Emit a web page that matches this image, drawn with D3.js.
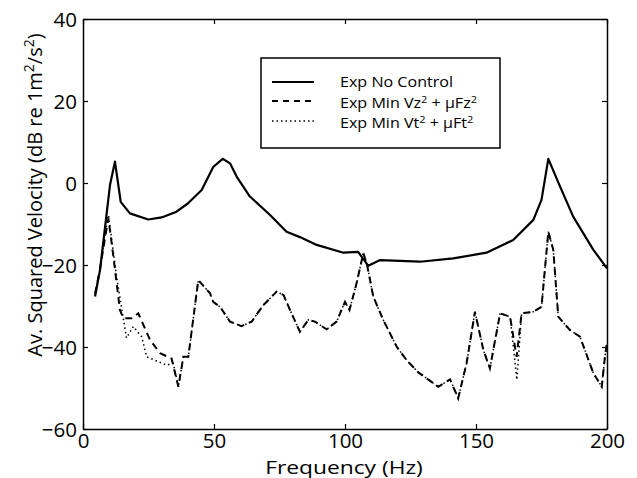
<!DOCTYPE html>
<html><head><meta charset="utf-8">
<script src="https://cdn.jsdelivr.net/npm/d3@7"></script>
<style>body{margin:0;background:#fff}svg{display:block}text{font-family:"Open Sans",sans-serif;fill:#000}</style>
</head><body><svg id="c" width="637" height="478"></svg>
<script>
const xTicks=[0,50,100,150,200];
const yTicks=[-60,-40,-20,0,20,40];
const seriesNames=["Exp No Control","Exp Min Vz","Exp Min Vt"];
const noControl=[[4.6,-27.7],[6.5,-21.2],[10.3,-0.5],[12.2,5.2],[14.4,-4.6],[17.9,-7.4],[24.9,-8.9],[30,-8.4],[35.7,-7.0],[40,-5],[45.3,-1.7],[49.7,3.9],[53.3,5.9],[56.1,4.8],[58.7,1.5],[63.7,-3.3],[71.4,-7.8],[77.7,-11.9],[82.8,-13.2],[89.2,-15.1],[99.4,-17],[105,-16.8],[108.9,-20.2],[113.4,-18.8],[128.6,-19.2],[141.3,-18.4],[154,-17],[164.2,-13.9],[171.9,-9],[175,-4.1],[177.6,5.9],[182.1,-0.9],[187.1,-8.2],[194.8,-16.3],[200,-20.8]];
const minVz=[[4.6,-27],[6.5,-21],[8.5,-13],[9.7,-8.6],[11,-15],[11.6,-18],[14.1,-31],[15.4,-33],[18.6,-33],[21.1,-31.8],[25.6,-38.3],[29.4,-41.5],[33.8,-42.8],[36.4,-49.7],[38.3,-42.4],[40.2,-42.4],[44,-23.7],[48.5,-26.9],[49.7,-29],[52.3,-30.2],[56.1,-33.8],[60.5,-34.9],[64.4,-33.8],[68.8,-29.8],[73.9,-26.5],[76.5,-27.3],[79.6,-31.8],[82.8,-36.3],[86,-33.4],[88.5,-33.8],[93,-35.7],[96.8,-33.8],[100,-29],[101.7,-31],[104.4,-24.5],[107,-17.1],[108.3,-19.6],[110.8,-27.7],[114.6,-33.4],[119.7,-39.9],[123.5,-43.2],[128,-46.2],[135.6,-49.7],[140.1,-47.9],[143.2,-52.5],[146.4,-44],[149.6,-31.4],[152.8,-40.7],[155.3,-45.2],[159.2,-31.8],[163,-32.6],[165.5,-42.4],[167.4,-31.8],[171.9,-31.4],[175,-30.2],[177.6,-11.9],[179.5,-16.3],[181.4,-32.6],[185.9,-35.9],[189.7,-37.5],[194.8,-46.4],[198,-49.7],[199.2,-42.4],[200,-39]];
const minVt=[[4.6,-27],[6.5,-21],[8.5,-12],[9.7,-7.8],[11,-14],[12.8,-22.8],[16.6,-37.8],[19.2,-35],[22.4,-37.5],[24.3,-42.4],[31.9,-44.4],[34.5,-44],[36.4,-49.7],[38.3,-42.4],[40.2,-42.4],[44,-23.7],[48.5,-26.9],[49.7,-29],[52.3,-30.2],[56.1,-33.8],[60.5,-34.9],[64.4,-33.8],[68.8,-29.8],[73.9,-26.5],[76.5,-27.3],[79.6,-31.8],[82.8,-36.3],[86,-33.4],[88.5,-33.8],[93,-35.7],[96.8,-33.8],[100,-29],[101.7,-31],[104.4,-24.5],[107,-17.1],[108.3,-19.6],[110.8,-27.7],[114.6,-33.4],[119.7,-39.9],[123.5,-43.2],[128,-46.2],[135.6,-49.7],[140.1,-47.9],[143.2,-52.5],[146.4,-44],[149.6,-31.4],[152.8,-40.7],[155.3,-45.2],[159.2,-31.8],[163,-32.6],[165.6,-48],[167.4,-31.8],[171.9,-31.4],[175,-30.2],[177.6,-11.9],[179.5,-16.3],[181.4,-32.6],[185.9,-35.9],[189.7,-37.5],[194.8,-46.4],[198,-49.7],[199.2,-42.4],[200,-39]];

const svg=d3.select("#c");
const L=83,R=607,T=19,B=429;
const x=d3.scaleLinear().domain([0,200]).range([L,R]);
const y=d3.scaleLinear().domain([-60,40]).range([B,T]);

const ax=svg.append("g").attr("transform",`translate(0,${B})`).call(d3.axisBottom(x).tickValues(xTicks).tickSizeInner(-5).tickSizeOuter(0).tickPadding(4));
const axT=svg.append("g").attr("transform",`translate(0,${T})`).call(d3.axisTop(x).tickValues(xTicks).tickSizeInner(-5).tickSizeOuter(0).tickFormat(""));
const ay=svg.append("g").attr("transform",`translate(${L},0)`).call(d3.axisLeft(y).tickValues(yTicks).tickSizeInner(-5).tickSizeOuter(0).tickPadding(6).tickFormat(d=>d<0?"\u2212"+(-d):d));
const ayR=svg.append("g").attr("transform",`translate(${R},0)`).call(d3.axisRight(y).tickValues(yTicks).tickSizeInner(-5).tickSizeOuter(0).tickFormat(""));
[ax,axT,ay,ayR].forEach(g=>{g.selectAll("path").attr("stroke","#000").attr("stroke-width",1.5);g.selectAll("line").attr("stroke","#000").attr("stroke-width",1.2);g.selectAll("text").attr("font-size",20.5).attr("font-family","'Open Sans',sans-serif").attr("fill","#000");});
ax.selectAll("text").attr("dy","0.71em");
ay.selectAll("text").attr("dy","0.36em");

const line=d3.line().x(d=>x(d[0])).y(d=>y(d[1]));
const g=svg.append("g");
g.append("path").datum(noControl).attr("d",line).attr("fill","none").attr("stroke","#000").attr("stroke-width",2.2).attr("stroke-linejoin","round");
g.append("path").datum(minVz).attr("d",line).attr("fill","none").attr("stroke","#000").attr("stroke-width",2).attr("stroke-dasharray","7,5");
g.append("path").datum(minVt).attr("d",line).attr("fill","none").attr("stroke","#000").attr("stroke-width",1.5).attr("stroke-dasharray","1.5,3");

// legend
const lg=svg.append("g");
lg.append("rect").attr("x",261).attr("y",58).attr("width",239).attr("height",90).attr("fill","#fff").attr("stroke","#000").attr("stroke-width",1.5);
const rows=[{y:82,dash:null,w:2.2},{y:101,dash:"6,5",w:2},{y:121,dash:"1.5,3",w:1.5}];
rows.forEach((r,i)=>{
  lg.append("line").attr("x1",272).attr("x2",314).attr("y1",r.y).attr("y2",r.y).attr("stroke","#000").attr("stroke-width",r.w).attr("stroke-dasharray",r.dash);
});
lg.append("text").attr("transform","translate(340,87) scale(1.15,1)").attr("font-size",14).text(seriesNames[0]);
function supText(yy,base,a){
  const t=lg.append("text").attr("transform",`translate(340,${yy}) scale(1.15,1)`).attr("font-size",14);
  t.append("tspan").text(base);
  t.append("tspan").attr("dy",-5).attr("font-size",9.5).text("2");
  t.append("tspan").attr("dy",5).text(" + \u03bcF"+a);
  t.append("tspan").attr("dy",-5).attr("font-size",9.5).text("2");
}
supText(108,seriesNames[1],"z");
supText(128,seriesNames[2],"t");

// axis labels
svg.append("text").attr("transform","translate(344,474) scale(1.2,1)").attr("text-anchor","middle").attr("font-size",19).text("Frequency (Hz)");
const yl=svg.append("text").attr("transform","translate(42,195) rotate(-90)").attr("text-anchor","middle").attr("font-size",20);
yl.append("tspan").text("Av. Squared Velocity (dB re 1m");
yl.append("tspan").attr("dy",-8).attr("font-size",14).text("2");
yl.append("tspan").attr("dy",8).text("/s");
yl.append("tspan").attr("dy",-8).attr("font-size",14).text("2");
yl.append("tspan").attr("dy",8).text(")");
</script></body></html>
